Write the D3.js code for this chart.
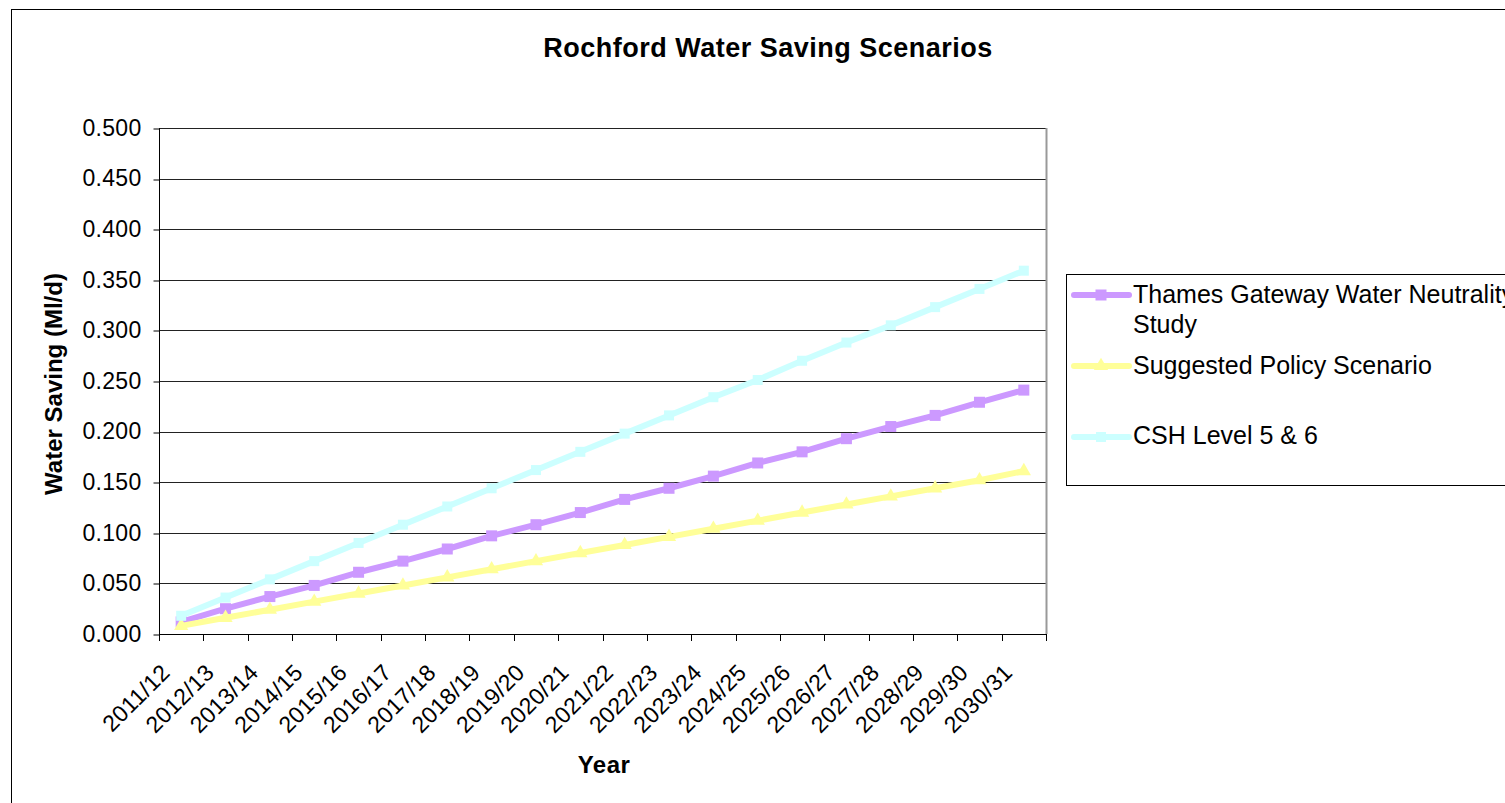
<!DOCTYPE html>
<html>
<head>
<meta charset="utf-8">
<script src="https://cdn.jsdelivr.net/npm/d3@7"></script>
<style>
  html, body { margin: 0; padding: 0; background: #fff; }
  svg { display: block; font-family: "Liberation Sans", Arial, sans-serif; }
</style>
</head>
<body>
<svg id="chart" width="1505" height="803"></svg>
<script>
const years = ["2011/12","2012/13","2013/14","2014/15","2015/16","2016/17","2017/18","2018/19","2019/20","2020/21",
               "2021/22","2022/23","2023/24","2024/25","2025/26","2026/27","2027/28","2028/29","2029/30","2030/31"];
const thames = [0.012,0.025,0.037,0.048,0.061,0.072,0.084,0.097,0.108,0.120,0.133,0.144,0.156,0.169,0.180,0.193,0.205,0.216,0.229,0.241];
const suggested = [0.008,0.016,0.024,0.032,0.040,0.048,0.056,0.064,0.072,0.080,0.088,0.096,0.104,0.112,0.120,0.128,0.136,0.144,0.152,0.161];
const csh = [0.018,0.036,0.054,0.072,0.090,0.108,0.126,0.144,0.162,0.180,0.198,0.216,0.234,0.251,0.270,0.288,0.305,0.323,0.341,0.359];
const yTicks = [0,0.05,0.1,0.15,0.2,0.25,0.3,0.35,0.4,0.45,0.5];
const seriesNames = ["Thames Gateway Water Neutrality Study","Suggested Policy Scenario","CSH Level 5 & 6"];

const series = [
  {name: seriesNames[0], values: thames, color: "#CC99FF", marker: "square", size: 11},
  {name: seriesNames[1], values: suggested, color: "#FFFF99", marker: "triangle", size: 14},
  {name: seriesNames[2], values: csh, color: "#CCFFFF", marker: "square", size: 10}
];

const svg = d3.select("#chart");
const L = 159, R = 1046, T = 128, B = 634;

// outer chart border
svg.append("rect").attr("x", 11.5).attr("y", 9.5).attr("width", 1700).attr("height", 1000)
  .attr("fill", "#fff").attr("stroke", "#000").attr("stroke-width", 1);

const x = d3.scaleBand().domain(years).range([L, R]).padding(0);
const y = d3.scaleLinear().domain([0, 0.5]).range([B, T]);

// gridlines
svg.append("g").selectAll("line").data(yTicks.filter(d => d > 0)).join("line")
  .attr("x1", L).attr("x2", R)
  .attr("y1", d => Math.round(y(d)) + 0.5).attr("y2", d => Math.round(y(d)) + 0.5)
  .attr("stroke", "#222").attr("stroke-width", 1);

// plot right border
svg.append("line").attr("x1", R + 0.5).attr("x2", R + 0.5).attr("y1", T).attr("y2", B)
  .attr("stroke", "#999").attr("stroke-width", 2);

// y axis
const yAxis = svg.append("g").attr("transform", `translate(${L + 0.5},0)`)
  .call(d3.axisLeft(y).tickValues(yTicks).tickFormat(d3.format(".3f")).tickSize(6).tickPadding(12));
yAxis.select(".domain").attr("stroke", "#000").attr("d", `M0,${T}V${B}`);
yAxis.selectAll(".tick line").attr("stroke", "#000").attr("transform", d => `translate(0,${Math.round(y(d)) + 0.5 - y(d)})`);
yAxis.selectAll(".tick text").attr("font-size", 23).attr("fill", "#000").attr("letter-spacing", 0.3)
  .attr("font-family", "'Liberation Sans', Arial, sans-serif");

// x axis
const xg = svg.append("g");
xg.append("line").attr("x1", L).attr("x2", R).attr("y1", B + 0.5).attr("y2", B + 0.5).attr("stroke", "#000");
const tickPos = years.map(d => x(d)).concat([x.range()[1]]);
xg.selectAll("line.tk").data(tickPos).join("line").attr("class", "tk")
  .attr("x1", d => Math.round(d) + 0.5).attr("x2", d => Math.round(d) + 0.5)
  .attr("y1", B).attr("y2", B + 7).attr("stroke", "#000");
xg.selectAll("text").data(years).join("text")
  .attr("transform", d => `translate(${x(d) + x.bandwidth() / 2 - 10},674) rotate(-45)`)
  .attr("text-anchor", "end")
  .attr("font-size", 23)
  .attr("letter-spacing", 0.3)
  .attr("fill", "#000")
  .text(d => d);

// lines
const line = d3.line().x((d, i) => x(years[i]) + x.bandwidth() / 2).y(d => y(d));
const tri = d3.symbol().type(d3.symbolTriangle);

function drawMarker(g, s, cx, cy) {
  if (s.marker === "square") {
    g.append("rect").attr("x", cx - s.size / 2).attr("y", cy - s.size / 2)
      .attr("width", s.size).attr("height", s.size).attr("fill", s.color);
  } else {
    g.append("path").attr("d", tri.size(s.size * s.size * 0.45)())
      .attr("transform", `translate(${cx},${cy})`).attr("fill", s.color);
  }
}

series.forEach(s => {
  const g = svg.append("g");
  g.append("path").datum(s.values).attr("d", line)
    .attr("fill", "none").attr("stroke", s.color).attr("stroke-width", 6)
    .attr("stroke-linejoin", "round");
  s.values.forEach((v, i) => drawMarker(g, s, x(years[i]) + x.bandwidth() / 2, y(v)));
});

// title
svg.append("text").attr("x", 768).attr("y", 57).attr("text-anchor", "middle")
  .attr("font-size", 27).attr("font-weight", "bold").attr("letter-spacing", 0.5).attr("fill", "#000")
  .text("Rochford Water Saving Scenarios");

// axis titles
svg.append("text").attr("transform", `translate(62,384) rotate(-90)`).attr("text-anchor", "middle")
  .attr("font-size", 24).attr("font-weight", "bold").attr("fill", "#000")
  .text("Water Saving (Ml/d)");
svg.append("text").attr("x", 604).attr("y", 773).attr("text-anchor", "middle")
  .attr("font-size", 24).attr("font-weight", "bold").attr("letter-spacing", 0.5).attr("fill", "#000")
  .text("Year");

// legend
const lg = svg.append("g");
lg.append("rect").attr("x", 1066.5).attr("y", 274.5).attr("width", 600).attr("height", 211)
  .attr("fill", "#fff").attr("stroke", "#000");
const legendRows = [
  {s: series[0], ly: 295, lines: ["Thames Gateway Water Neutrality", "Study"], ty: 303},
  {s: series[1], ly: 366, lines: ["Suggested Policy Scenario"], ty: 374},
  {s: series[2], ly: 437, lines: ["CSH Level 5 & 6"], ty: 444}
];
legendRows.forEach(r => {
  lg.append("line").attr("x1", 1074).attr("x2", 1129).attr("y1", r.ly).attr("y2", r.ly)
    .attr("stroke", r.s.color).attr("stroke-width", 6).attr("stroke-linecap", "round");
  drawMarker(lg, r.s, 1101, r.ly);
  const t = lg.append("text").attr("x", 1133).attr("y", r.ty).attr("font-size", 25).attr("fill", "#000");
  r.lines.forEach((ln, k) => t.append("tspan").attr("x", 1133).attr("dy", k === 0 ? 0 : 30).text(ln));
});
</script>
</body>
</html>
